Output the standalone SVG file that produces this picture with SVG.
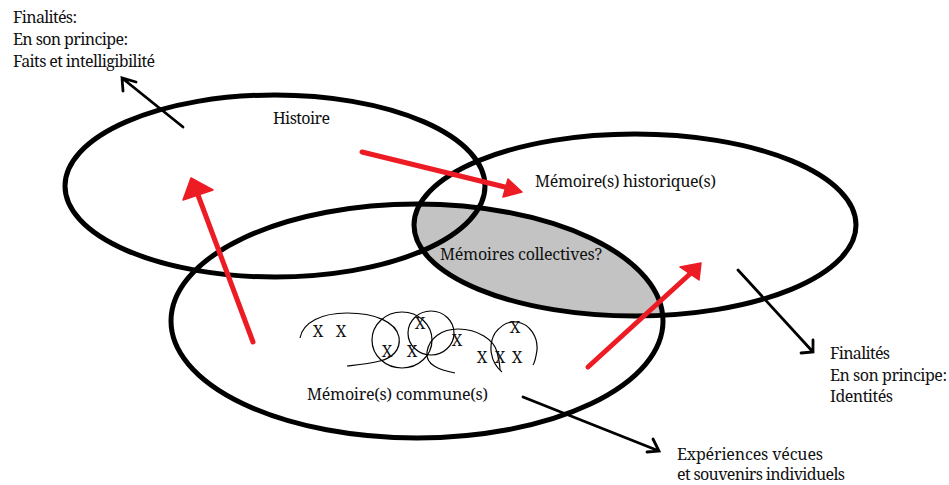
<svg xmlns="http://www.w3.org/2000/svg" width="949" height="485" viewBox="0 0 949 485">
<style>
.ell{fill:none;stroke:#000;stroke-width:5}
.thin{fill:none;stroke:#000;stroke-width:1.2}
.blk{fill:none;stroke:#000;stroke-width:2.8;stroke-linecap:round;stroke-linejoin:miter}
.red{fill:none;stroke:#ed1c24;stroke-width:5;stroke-linecap:round}
.redh{fill:#ed1c24;stroke:#ed1c24;stroke-width:1.5;stroke-linejoin:round}
.lbl{font-size:16px;fill:#111}
.x{font-size:16px;fill:#111;text-anchor:middle}
</style>
<defs>
<clipPath id="clipCommune"><ellipse cx="417" cy="321" rx="246" ry="117"/></clipPath>
</defs>
<rect width="949" height="485" fill="#fff"/>
<g id="intersection">
<ellipse cx="635" cy="225" rx="221" ry="91" fill="#c3c3c3" clip-path="url(#clipCommune)"/>
</g>
<g font-family="'Noto Serif', 'DejaVu Serif', 'Liberation Serif', serif">
<g id="histoire">
<ellipse class="ell" cx="275" cy="186" rx="210" ry="91"/>
<text class="lbl" x="273" y="124" textLength="57">Histoire</text>
</g>
<g id="memoire-historique">
<ellipse class="ell" cx="635" cy="225" rx="221" ry="91"/>
<text class="lbl" x="535" y="187" textLength="181">Mémoire(s) historique(s)</text>
</g>
<g id="memoire-commune">
<ellipse class="ell" cx="417" cy="321" rx="246" ry="117"/>
<text class="lbl" x="307" y="400" textLength="181">Mémoire(s) commune(s)</text>
</g>
<g id="memoires-collectives">
<text class="lbl" x="440" y="260" textLength="162">Mémoires collectives?</text>
</g>
<g id="souvenirs">
<path class="thin" d="M300,338 C303,322 322,313 347,313 C375,313 396,322 399,337 C401,350 392,358 380,361 C368,364 356,365 347,366"/>
<ellipse class="thin" cx="402" cy="340" rx="30" ry="28"/>
<ellipse class="thin" cx="431" cy="333" rx="23" ry="22"/>
<path class="thin" d="M455,373 C440,370 425,365 427,352 C429,338 442,329 458,329 C478,329 494,340 497,352 C499,360 500,366 500,370"/>
<path class="thin" d="M502,372 C490,362 488,345 495,333 C502,324 510,321 517,322 C530,324 538,337 537,350 C536,357 535,362 533,365"/>
<text class="x" x="318" y="337">X</text>
<text class="x" x="341" y="337">X</text>
<text class="x" x="420" y="329">X</text>
<text class="x" x="387" y="357">X</text>
<text class="x" x="412" y="357">X</text>
<text class="x" x="457" y="346">X</text>
<text class="x" x="515" y="333">X</text>
<text class="x" x="482" y="363">X</text>
<text class="x" x="500" y="363">X</text>
<text class="x" x="517" y="363">X</text>
</g>
<g id="finalites-histoire">
<text class="lbl" x="13" y="23" textLength="64">Finalités:</text>
<text class="lbl" x="13" y="45" textLength="115">En son principe:</text>
<text class="lbl" x="13" y="67" textLength="142">Faits et intelligibilité</text>
</g>
<g id="finalites-memoire">
<text class="lbl" x="830" y="359" textLength="60">Finalités</text>
<text class="lbl" x="830" y="381" textLength="117">En son principe:</text>
<text class="lbl" x="830" y="402" textLength="63">Identités</text>
</g>
<g id="experiences">
<text class="lbl" x="677" y="460" textLength="146">Expériences vécues</text>
<text class="lbl" x="677" y="480" textLength="168">et souvenirs individuels</text>
</g>
</g>
<g id="connectors">
<path class="red" d="M253,342 L198,195"/>
<polygon class="redh" points="191,178 183,200 213,190"/>
<path class="red" d="M362,152 L509,188"/>
<polygon class="redh" points="522,192 508,179 503,197"/>
<path class="red" d="M588,367 L691,273"/>
<polygon class="redh" points="701,263 680,267 699,280"/>
<path class="blk" d="M183,127 L122,78 M123,91 L122,78 L136,82"/>
<path class="blk" d="M738,270 L813,352 M801,353 L813,352 L813,340"/>
<path class="blk" d="M523,397 L659,451 M647,452 L659,451 L653,439"/>
</g>
</svg>
